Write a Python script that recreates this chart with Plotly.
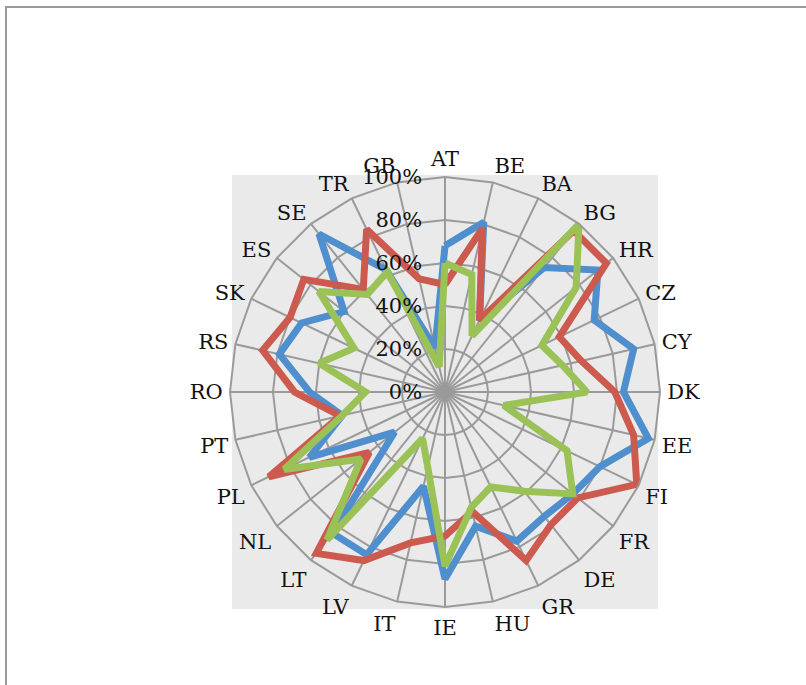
import plotly.graph_objects as go

# Country codes, clockwise from the top
countries = ["AT", "BE", "BA", "BG", "HR", "CZ", "CY", "DK", "EE", "FI",
             "FR", "DE", "GR", "HU", "IE", "IT", "LV", "LT", "NL", "PL",
             "PT", "RO", "RS", "SK", "ES", "SE", "TR", "GB"]

# Shares per country (0..1) for the three series
series_blue = [0.68, 0.81, 0.37, 0.74, 0.91, 0.77, 0.90, 0.83, 0.97, 0.80,
               0.76, 0.74, 0.77, 0.64, 0.87, 0.45, 0.84, 0.84, 0.30, 0.70,
               0.49, 0.63, 0.79, 0.74, 0.60, 0.94, 0.63, 0.21]
series_red = [0.50, 0.78, 0.37, 0.96, 0.96, 0.59, 0.65, 0.79, 0.90, 0.99,
              0.79, 0.79, 0.87, 0.57, 0.67, 0.72, 0.87, 0.96, 0.45, 0.91,
              0.50, 0.70, 0.87, 0.80, 0.84, 0.61, 0.84, 0.54]
series_green = [0.60, 0.56, 0.29, 1.00, 0.78, 0.50, 0.56, 0.66, 0.28, 0.63,
                0.76, 0.59, 0.49, 0.55, 0.81, 0.36, 0.24, 0.88, 0.50, 0.83,
                0.49, 0.37, 0.60, 0.47, 0.75, 0.58, 0.62, 0.12]

radial_ticks = [0, 0.2, 0.4, 0.6, 0.8, 1.0]
radial_labels = ["0%", "20%", "40%", "60%", "80%", "100%"]

colors = ["#4F8FCD", "#CD5A4E", "#9BC257"]
all_series = [series_blue, series_red, series_green]

W, H = 806, 685
FONT = "DejaVu Serif"

fig = go.Figure()
for vals, col in zip(all_series, colors):
    fig.add_trace(go.Scatterpolar(
        r=vals + vals[:1],
        theta=countries + countries[:1],
        mode="lines",
        line=dict(color=col, width=7),
        showlegend=False,
        hoverinfo="skip",
    ))

# plot-area geometry in pixels
cx, cy, R = 445, 392, 215

fig.update_layout(
    width=W, height=H,
    margin=dict(l=0, r=0, t=0, b=0),
    paper_bgcolor="white",
    plot_bgcolor="white",
    font=dict(family=FONT, size=21, color="#111111"),
    polar=dict(
        domain=dict(x=[(cx - R) / W, (cx + R) / W],
                    y=[(H - cy - R) / H, (H - cy + R) / H]),
        bgcolor="#EAEAEA",
        gridshape="linear",
        radialaxis=dict(
            range=[0, 1],
            tickvals=radial_ticks,
            ticktext=radial_labels,
            angle=90,
            tickangle=90,
            side="counterclockwise",
            showline=False,
            ticks="outside",
            ticklen=15,
            tickcolor="rgba(0,0,0,0)",
            gridcolor="#9A9A9A",
            gridwidth=2,
            tickfont=dict(family=FONT, size=21, color="#111111"),
        ),
        angularaxis=dict(
            categoryorder="array",
            categoryarray=countries,
            direction="clockwise",
            rotation=90,
            showline=True,
            linecolor="#9A9A9A",
            linewidth=2,
            gridcolor="#9A9A9A",
            gridwidth=2,
            ticks="outside",
            ticklen=2,
            tickcolor="rgba(0,0,0,0)",
            tickfont=dict(family=FONT, size=21, color="#111111"),
        ),
    ),
    shapes=[
        # grey plot-area box
        dict(type="rect", xref="paper", yref="paper", layer="below",
             x0=232 / W, x1=658 / W, y0=(H - 609) / H, y1=(H - 175) / H,
             fillcolor="#EAEAEA", line=dict(width=0)),
        # chart-area frame
        dict(type="rect", xref="paper", yref="paper", layer="above",
             x0=6 / W, x1=1.02, y0=-0.02, y1=(H - 7) / H,
             fillcolor="rgba(0,0,0,0)", line=dict(color="#9A9A9A", width=2)),
    ],
)

fig.write_html("out.html")
